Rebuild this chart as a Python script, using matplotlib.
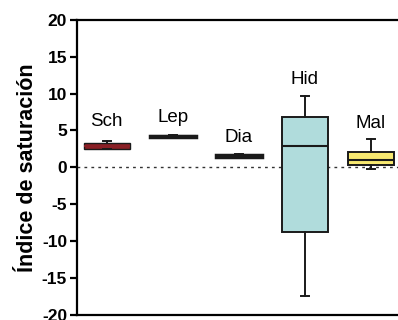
import matplotlib
matplotlib.use("Agg")
import matplotlib.pyplot as plt

plt.rcParams['font.family'] = ['Liberation Sans', 'DejaVu Sans']

categories = ["Sch", "Lep", "Dia", "Hid", "Mal"]
whislo = [2.45, 4.05, 1.35, -17.5, -0.2]
q1 = [2.45, 4.1, 1.4, -8.7, 0.3]
med = [2.9, 4.2, 1.55, 2.9, 0.95]
q3 = [3.3, 4.3, 1.7, 6.8, 2.15]
whishi = [3.6, 4.35, 1.75, 9.7, 3.8]
fills = ["#8A1F25", "#333333", "#333333", "#B0DCDC", "#F7E870"]
label_y = [5.6, 6.1, 3.4, 11.3, 5.4]
yticks = [20, 15, 10, 5, 0, -5, -10, -15, -20]

fig = plt.figure(figsize=(3.98, 3.20), dpi=100)
ax = fig.add_axes([0.193, 0.016, 0.807, 0.922])

stats = []
for i, c in enumerate(categories):
    stats.append(dict(label=c, whislo=whislo[i], q1=q1[i], med=med[i],
                      q3=q3[i], whishi=whishi[i], fliers=[]))
pos = list(range(1, len(categories) + 1))
bp = ax.bxp(stats, positions=pos, widths=0.7, patch_artist=True,
            showfliers=False,
            boxprops=dict(linewidth=1.4, edgecolor='#1a1a1a'),
            medianprops=dict(color='#1a1a1a', linewidth=1.5),
            whiskerprops=dict(color='#1a1a1a', linewidth=1.4),
            capprops=dict(color='#1a1a1a', linewidth=1.4),
            capwidths=0.12)
for i, b in enumerate(bp['boxes']):
    b.set_facecolor(fills[i])
    if i in (1, 2):
        b.set_linewidth(2.5)
    if i == 0:
        b.set_linewidth(1.0)
bp['medians'][0].set_color(fills[0])

ax.axhline(0, color='#333333', linestyle=(0, (2, 3)), linewidth=1.0, zorder=0)

for i, c in enumerate(categories):
    ax.text(pos[i], label_y[i], c, ha='center', va='baseline', fontsize=13.5)

ax.set_xlim(0.545, 5.41)
ax.set_ylim(-20, 20)
ax.set_yticks(yticks)
ax.set_yticklabels([str(t) for t in yticks], fontsize=12.5, fontweight='bold')
ax.set_xticks([])
ax.spines['right'].set_visible(False)
for s in ['left', 'top', 'bottom']:
    ax.spines[s].set_linewidth(1.6)
ax.tick_params(axis='y', width=1.6, length=5, pad=2)
ax.set_ylabel("Índice de saturación", fontsize=15.5, fontweight='bold', labelpad=3)

fig.savefig("out.png", dpi=100)
